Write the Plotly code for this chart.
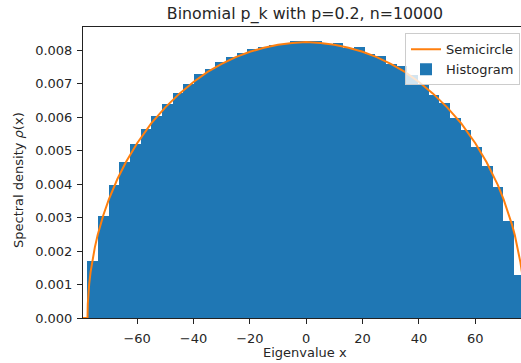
import numpy as np
import plotly.graph_objects as go

# ---- data ----
bin_lo = -77.66
bin_hi = 77.53
hist_density = [
    0.00171, 0.00306, 0.00398, 0.00466, 0.00521, 0.00565, 0.00604, 0.00640,
    0.00673, 0.00699, 0.00728, 0.00744, 0.00764, 0.00779, 0.00790, 0.00803,
    0.00808, 0.00815, 0.00818, 0.00828, 0.00827, 0.00826, 0.00819, 0.00820,
    0.00807, 0.00810, 0.00789, 0.00783, 0.00760, 0.00752, 0.00726, 0.00696,
    0.00667, 0.00642, 0.00597, 0.00562, 0.00512, 0.00453, 0.00390, 0.00290,
    0.00128,
]

semi_x = [-79.2, -77.6, -77.5, -77.3, -77.0, -76.5, -76.0, -75.0, -74.0, -73.0,
          -72.0, -70.0, -68.0, -67.0, -64.0, -60.0, -55.0, -50.0, -45.0, -40.0,
          -35.0, -30.0, -25.0, -20.0, -15.0, -10.0, -5.0, 0.0,
          5.0, 10.0, 15.0, 20.0, 25.0, 30.0, 35.0, 40.0, 45.0, 50.0, 55.0,
          60.0, 64.0, 67.0, 68.0, 70.0, 72.0, 73.0, 74.0, 75.0, 76.0, 76.5,
          77.0, 77.3, 77.5, 77.6, 79.2]
semi_y = [0.0, 0.0, 0.00042, 0.00072, 0.00102, 0.00138, 0.00166, 0.00211, 0.00248, 0.00279,
          0.00307, 0.00355, 0.00397, 0.00415, 0.00465, 0.00522, 0.00581, 0.00629, 0.00670, 0.00705,
          0.00735, 0.00759, 0.00779, 0.00795, 0.00807, 0.00816, 0.00821, 0.00824,
          0.00821, 0.00816, 0.00807, 0.00795, 0.00779, 0.00759, 0.00735, 0.00705, 0.00670, 0.00629, 0.00581,
          0.00522, 0.00465, 0.00415, 0.00397, 0.00355, 0.00307, 0.00279, 0.00248, 0.00211, 0.00166, 0.00138,
          0.00102, 0.00072, 0.00042, 0.0, 0.0]

x_ticks = [-60, -40, -20, 0, 20, 40, 60]
y_ticks = [0.000, 0.001, 0.002, 0.003, 0.004, 0.005, 0.006, 0.007, 0.008]

title_text = "Binomial p_k with p=0.2, n=10000"
xlabel = "Eigenvalue x"
ylabel = "Spectral density <i>ρ</i>(x)"

# ---- derived bin geometry ----
edges = np.linspace(bin_lo, bin_hi, len(hist_density) + 1)
centers = (edges[:-1] + edges[1:]) / 2
width = edges[1] - edges[0]

FONT = "DejaVu Sans"
TXT = "#262626"
FS = 13
PLOT_TOP, PLOT_BOTTOM, PLOT_LEFT, PLOT_W = 27, 318, 83, 438
PLOT_H = PLOT_BOTTOM - PLOT_TOP

fig = go.Figure()
fig.add_trace(go.Scatter(
    x=semi_x, y=semi_y, mode="lines", name="Semicircle",
    line=dict(color="#ff7f0e", width=2),
))
fig.add_trace(go.Bar(
    x=centers, y=hist_density, width=width, name="Histogram",
    marker=dict(color="#1f77b4", line=dict(width=0)),
))

fig.update_layout(
    width=521, height=363,
    margin=dict(l=PLOT_LEFT, r=0, t=PLOT_TOP, b=363 - PLOT_BOTTOM, autoexpand=False),
    paper_bgcolor="white", plot_bgcolor="white",
    font=dict(family=FONT, size=FS, color=TXT),
    bargap=0,
    showlegend=True,
    title=dict(text=title_text, x=(305 - PLOT_LEFT) / PLOT_W, xref="paper", xanchor="center",
               y=1 - 13 / 363, yref="container", yanchor="middle",
               font=dict(size=15.8, color=TXT)),
    legend=dict(x=(405 - PLOT_LEFT) / PLOT_W, xanchor="left", y=0.978, yanchor="top",
                bgcolor="rgba(255,255,255,0.8)", bordercolor="#cccccc", borderwidth=1,
                font=dict(size=FS, color=TXT), tracegroupgap=0),
    xaxis=dict(range=[-79.2, 76.2], tickvals=x_ticks, ticks="outside", ticklen=5,
               tickwidth=1, tickcolor="#222", showline=True, linecolor="#222",
               linewidth=1, mirror=True, showgrid=False, zeroline=False,
               ticklabelstandoff=3,
               tickfont=dict(size=FS, color=TXT)),
    yaxis=dict(range=[0, 0.00869], tickvals=y_ticks, tickformat=".3f", ticks="outside",
               ticklen=5, tickwidth=1, tickcolor="#222", showline=True, linecolor="#222",
               linewidth=1, showgrid=False, zeroline=False, ticklabelstandoff=2,
               tickfont=dict(size=FS, color=TXT)),
    annotations=[
        dict(text=xlabel, x=(305 - PLOT_LEFT) / PLOT_W, xref="paper", xanchor="center",
             y=(PLOT_BOTTOM - 352) / PLOT_H, yref="paper", yanchor="middle",
             showarrow=False, font=dict(size=FS, color=TXT)),
        dict(text=ylabel, textangle=-90, x=(18 - PLOT_LEFT) / PLOT_W, xref="paper",
             xanchor="center", y=(PLOT_BOTTOM - 180) / PLOT_H, yref="paper",
             yanchor="middle", showarrow=False, font=dict(size=FS, color=TXT)),
    ],
)

fig.write_html("out.html")
